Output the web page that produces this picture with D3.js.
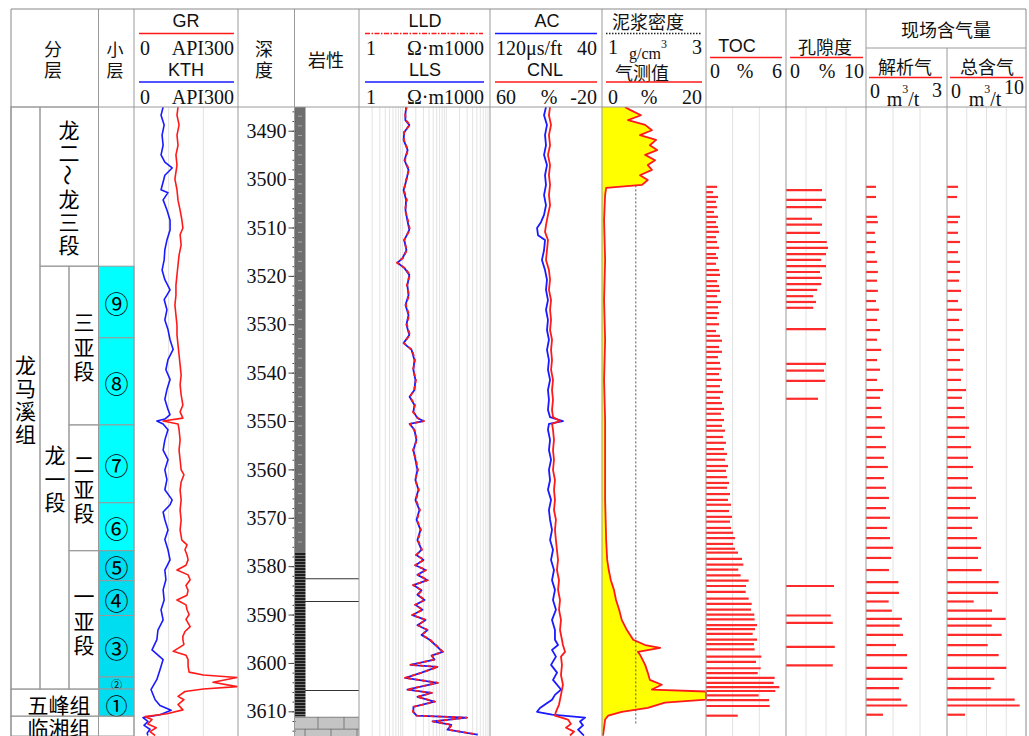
<!DOCTYPE html>
<html>
<head>
<meta charset="utf-8">
<script src="https://cdn.jsdelivr.net/npm/d3@7"></script>
<style>
  body { margin: 0; background: #fff; }
  svg { display: block; }
</style>
</head>
<body>
<svg id="chart" width="1029" height="736"></svg>
<script>
// ---- data: [depth (m), value] ----
const grData = [[3485.1,127],[3486.8,124],[3488.8,130],[3490.9,124],[3493.0,127],[3495.0,121],[3497.1,124],[3500.0,118],[3502.2,124],[3504.4,127],[3506.4,133],[3508.4,138],[3510.1,141],[3511.5,133],[3513.6,136],[3515.7,130],[3517.7,127],[3519.8,124],[3521.9,121],[3524.0,121],[3526.0,118],[3528.1,121],[3530.2,124],[3532.2,124],[3534.3,127],[3536.3,130],[3538.4,133],[3540.5,136],[3542.5,133],[3544.6,136],[3546.7,141],[3548.1,133],[3549.4,141],[3550.0,84],[3550.6,127],[3551.8,130],[3553.9,133],[3556.0,130],[3558.0,133],[3560.1,136],[3561.1,144],[3562.6,136],[3564.3,133],[3566.3,136],[3568.4,133],[3570.5,136],[3572.5,133],[3574.6,138],[3575.6,153],[3576.6,147],[3577.7,153],[3578.7,156],[3579.8,150],[3580.8,124],[3581.8,156],[3582.8,162],[3584.0,150],[3585.0,156],[3586.0,153],[3587.0,124],[3588.0,150],[3589.0,153],[3590.0,159],[3591.0,150],[3592.5,162],[3593.5,147],[3594.5,141],[3595.2,141],[3596.2,144],[3597.6,113],[3598.4,150],[3599.3,156],[3600.7,156],[3601.9,159],[3602.5,200],[3603.0,297],[3604.0,228],[3604.9,297],[3605.4,200],[3605.9,147],[3606.9,127],[3607.6,144],[3608.6,127],[3609.7,141],[3610.5,95],[3611.1,32],[3611.7,52],[3612.6,40],[3613.4,64],[3614.2,46],[3615.0,61]];

const kthData = [[3485.1,84],[3486.8,78],[3488.8,87],[3490.9,81],[3493.0,84],[3495.0,78],[3496.5,89],[3497.7,110],[3499.2,89],[3500.6,84],[3502.2,78],[3502.8,98],[3504.3,84],[3506.4,95],[3508.5,104],[3510.5,104],[3512.6,95],[3514.6,89],[3516.7,87],[3518.8,81],[3520.8,89],[3522.9,104],[3524.9,87],[3527.0,95],[3529.1,89],[3531.1,98],[3533.2,104],[3535.2,113],[3537.3,98],[3539.4,92],[3541.4,104],[3543.5,95],[3545.5,89],[3547.6,98],[3548.7,104],[3549.6,89],[3550.0,66],[3550.6,84],[3551.8,98],[3553.9,89],[3556.0,84],[3558.0,98],[3560.1,89],[3562.1,95],[3564.2,89],[3566.3,110],[3567.3,104],[3568.8,84],[3570.4,89],[3572.5,98],[3574.5,89],[3576.6,98],[3578.7,104],[3580.8,89],[3582.8,92],[3584.9,84],[3587.0,87],[3589.0,78],[3591.1,84],[3593.2,69],[3595.2,66],[3597.3,52],[3599.3,84],[3601.4,75],[3603.4,66],[3605.5,49],[3607.6,61],[3608.8,75],[3609.8,107],[3610.7,75],[3611.3,26],[3612.1,40],[3612.9,29],[3613.7,46],[3614.5,38],[3615.0,40]];

const lldData = [[3485.1,12.5],[3486.4,11.3],[3487.8,11.9],[3488.8,14.7],[3490.3,10.7],[3491.9,10.7],[3494.0,13.2],[3496.1,11.3],[3498.1,14.0],[3500.2,11.9],[3502.3,10.7],[3504.3,12.5],[3506.4,11.3],[3508.5,13.2],[3510.5,14.7],[3512.6,10.7],[3514.7,12.5],[3516.3,10.2],[3517.3,7.4],[3518.4,11.3],[3519.8,14.7],[3521.9,12.5],[3524.0,14.0],[3526.0,11.9],[3528.1,14.0],[3530.1,12.5],[3532.2,14.7],[3533.9,10.7],[3535.3,16.4],[3537.4,19.2],[3539.4,17.2],[3541.5,20.2],[3543.6,18.2],[3545.0,14.7],[3546.7,19.2],[3548.1,17.2],[3549.4,22.4],[3550.0,30.8],[3550.6,14.7],[3551.8,18.2],[3553.9,21.3],[3556.0,17.2],[3558.0,20.2],[3560.1,22.4],[3562.2,19.2],[3564.2,23.6],[3566.3,20.2],[3568.4,24.9],[3570.4,21.3],[3572.5,26.3],[3574.6,22.4],[3576.6,27.7],[3577.7,20.2],[3578.7,30.8],[3579.8,19.2],[3580.8,34.2],[3581.8,22.4],[3582.9,38.0],[3583.9,17.2],[3585.0,27.7],[3585.9,22.4],[3587.0,32.4],[3588.0,19.2],[3589.0,29.2],[3590.1,16.4],[3591.1,34.2],[3592.2,22.4],[3593.2,38.0],[3594.2,27.7],[3595.2,42.4],[3596.5,61.0],[3597.7,84.0],[3598.5,47.0],[3599.3,55.0],[3600.4,14.7],[3600.8,64.3],[3602.0,27.7],[3603.1,11.3],[3604.1,64.3],[3605.5,12.5],[3606.2,47.0],[3607.0,21.3],[3608.0,55.0],[3609.1,17.2],[3610.1,17.2],[3610.9,21.3],[3611.3,298],[3612.1,49.4],[3612.8,134],[3613.8,109],[3614.8,530]];

const llsData = [[3485.1,12.0],[3486.4,11.6],[3487.8,11.5],[3488.8,14.2],[3490.3,10.9],[3491.9,10.5],[3494.0,13.0],[3496.1,11.0],[3498.1,13.6],[3500.2,12.2],[3502.3,10.5],[3504.3,12.0],[3506.4,11.6],[3508.5,12.8],[3510.5,14.2],[3512.6,10.9],[3514.7,12.2],[3516.3,10.0],[3517.3,7.6],[3518.4,11.0],[3519.8,14.2],[3521.9,12.8],[3524.0,13.6],[3526.0,11.6],[3528.1,13.6],[3530.1,12.2],[3532.2,14.2],[3533.9,10.5],[3535.3,16.0],[3537.4,18.6],[3539.4,17.6],[3541.5,19.6],[3543.6,18.6],[3545.0,14.4],[3546.7,18.6],[3548.1,17.6],[3549.4,21.8],[3550.0,30.0],[3550.6,14.4],[3551.8,18.6],[3553.9,20.6],[3556.0,17.6],[3558.0,19.6],[3560.1,21.8],[3562.2,19.6],[3564.2,23.0],[3566.3,19.6],[3568.4,24.2],[3570.4,20.8],[3572.5,25.6],[3574.6,21.8],[3576.6,27.0],[3577.7,20.6],[3578.7,30.0],[3579.8,19.6],[3580.8,33.4],[3581.8,21.8],[3582.9,37.0],[3583.9,17.6],[3585.0,27.0],[3585.9,21.8],[3587.0,31.6],[3588.0,19.6],[3589.0,28.4],[3590.1,16.8],[3591.1,33.4],[3592.2,21.8],[3593.2,37.0],[3594.2,27.0],[3595.2,41.4],[3596.5,59.5],[3597.7,82.0],[3598.5,45.8],[3599.3,53.6],[3600.4,15.0],[3600.8,62.8],[3602.0,27.0],[3603.1,11.6],[3604.1,62.8],[3605.5,12.8],[3606.2,45.8],[3607.0,21.8],[3608.0,53.6],[3609.1,17.6],[3610.1,17.6],[3610.9,20.8],[3611.3,290],[3612.1,48.2],[3612.8,130],[3613.8,106],[3614.8,515]];

const acData = [[3485.1,80.0],[3486.8,81.4],[3488.8,79.3],[3490.9,80.7],[3493.0,80.0],[3495.0,81.4],[3497.1,79.3],[3499.2,80.7],[3501.2,80.0],[3503.3,81.4],[3505.4,80.0],[3507.4,81.4],[3508.9,83.6],[3510.1,86.4],[3511.6,85.7],[3512.6,80.7],[3514.7,81.4],[3516.7,82.9],[3518.8,80.7],[3520.8,79.3],[3522.9,80.0],[3525.0,78.6],[3527.0,80.0],[3529.1,78.6],[3531.2,79.3],[3533.2,77.9],[3535.3,79.3],[3537.4,77.9],[3539.4,78.6],[3541.5,77.1],[3543.6,78.6],[3545.6,77.9],[3547.7,78.6],[3549.2,77.1],[3550.0,67.9],[3550.6,77.9],[3551.8,78.6],[3553.9,77.1],[3556.0,77.9],[3558.0,76.4],[3560.1,77.9],[3562.2,77.1],[3564.2,78.6],[3566.3,76.4],[3568.4,77.9],[3570.4,77.1],[3572.5,75.7],[3574.6,77.1],[3576.6,75.0],[3578.7,76.4],[3580.8,74.3],[3582.9,75.7],[3584.9,73.6],[3587.0,75.0],[3589.0,72.9],[3591.1,75.7],[3593.2,73.6],[3595.2,73.6],[3596.3,71.4],[3597.3,75.7],[3598.7,72.9],[3600.4,76.4],[3602.0,72.1],[3603.5,75.0],[3605.5,69.3],[3606.6,73.6],[3607.6,75.7],[3608.6,80.7],[3609.3,84.3],[3610.1,86.4],[3610.7,75.7],[3611.3,52.1],[3612.1,55.7],[3612.9,53.6],[3613.8,57.1],[3615.0,52.9]];

const cnlData = [[3485.1,17.1],[3486.8,17.9],[3488.8,16.4],[3490.9,17.9],[3493.0,17.1],[3495.0,18.6],[3497.1,17.1],[3499.2,17.9],[3501.2,17.1],[3503.3,17.9],[3505.4,17.1],[3507.4,18.6],[3509.5,20.0],[3510.9,20.7],[3512.6,18.6],[3514.7,19.3],[3516.7,20.0],[3518.8,17.9],[3520.8,17.1],[3522.9,17.9],[3525.0,16.4],[3527.0,17.1],[3529.1,16.4],[3531.2,17.1],[3533.2,15.7],[3535.3,16.4],[3537.4,15.7],[3539.4,16.4],[3541.5,15.0],[3543.6,15.7],[3545.6,15.0],[3547.7,15.7],[3549.2,15.0],[3550.0,10.0],[3550.6,15.7],[3551.8,15.0],[3553.9,14.3],[3556.0,15.0],[3558.0,14.3],[3560.1,15.0],[3562.2,13.6],[3564.2,14.3],[3566.3,13.6],[3568.4,14.3],[3570.4,12.9],[3572.5,13.6],[3574.6,12.9],[3576.6,12.2],[3578.7,11.4],[3580.8,12.2],[3582.9,10.7],[3584.9,11.4],[3587.0,10.0],[3589.0,10.7],[3591.1,9.3],[3593.2,10.0],[3595.2,8.6],[3596.3,7.9],[3597.7,6.4],[3598.7,9.3],[3600.4,8.6],[3602.5,9.3],[3604.5,7.9],[3606.6,9.3],[3608.6,10.7],[3610.1,12.9],[3610.9,13.6],[3611.7,4.3],[3612.6,2.2],[3613.4,5.7],[3614.2,0.0],[3615.0,2.9]];

const gasData = [[3485.1,4.4],[3485.7,5.4],[3486.8,7.5],[3487.8,5.0],[3488.8,8.3],[3489.9,9.6],[3490.9,7.3],[3491.9,10.4],[3493.0,9.2],[3494.0,10.6],[3495.0,8.3],[3496.1,10.2],[3497.1,8.8],[3498.1,9.6],[3499.2,7.3],[3500.2,8.8],[3501.2,7.7],[3501.8,0.8],[3503.3,0.6],[3508.5,0.4],[3516.7,0.6],[3525.0,0.4],[3533.2,0.6],[3541.5,0.4],[3549.8,0.6],[3558.0,0.6],[3566.3,0.6],[3574.6,0.8],[3578.7,1.0],[3580.8,1.3],[3582.9,1.7],[3584.9,2.3],[3587.0,2.7],[3589.0,3.3],[3591.1,3.8],[3593.2,4.8],[3595.2,6.0],[3596.3,8.3],[3596.9,11.2],[3597.7,6.9],[3598.3,7.3],[3600.4,8.3],[3602.0,8.8],[3603.5,9.2],[3604.5,11.5],[3605.5,9.6],[3605.9,20.0],[3607.6,20.0],[3608.2,12.1],[3609.3,8.8],[3610.1,3.8],[3610.9,1.2],[3611.7,0.6],[3615.0,0.2]];

const mudData = [[3501.3,1.65],[3612.5,1.65]];

const tocData = [[3501.6,0.83],[3502.7,0.53],[3503.7,0.90],[3504.7,0.75],[3505.8,0.83],[3506.8,0.60],[3507.8,0.90],[3508.9,0.75],[3509.9,0.90],[3510.9,0.98],[3512.0,0.75],[3513.0,0.83],[3514.2,0.98],[3515.5,0.75],[3516.3,0.90],[3517.5,0.75],[3518.8,0.98],[3519.8,1.05],[3521.1,0.83],[3522.1,0.98],[3523.1,1.05],[3524.2,0.83],[3525.4,1.13],[3526.5,0.90],[3527.7,0.98],[3528.7,0.83],[3530.0,0.98],[3531.4,0.75],[3532.4,1.05],[3533.4,1.20],[3534.7,0.98],[3535.7,1.20],[3536.8,0.90],[3538.0,1.05],[3539.2,1.13],[3540.3,0.98],[3541.5,1.20],[3542.8,1.05],[3544.0,1.28],[3545.2,1.05],[3546.3,1.20],[3547.5,1.35],[3548.5,1.13],[3549.8,1.35],[3551.0,1.20],[3552.0,1.43],[3553.3,1.28],[3554.5,1.50],[3555.8,1.35],[3556.8,1.58],[3558.0,1.43],[3559.3,1.65],[3560.3,1.50],[3561.6,1.58],[3562.8,1.73],[3563.8,1.58],[3565.1,1.80],[3566.3,1.65],[3567.3,1.88],[3568.6,1.73],[3569.8,1.95],[3570.8,1.80],[3572.1,1.88],[3573.1,2.03],[3574.2,2.18],[3575.4,2.03],[3576.4,2.18],[3577.2,2.40],[3578.5,2.70],[3579.7,2.80],[3580.7,2.42],[3581.9,2.60],[3583.0,3.20],[3584.1,3.00],[3585.3,2.98],[3586.7,3.20],[3587.8,3.43],[3589.0,3.38],[3590.0,3.62],[3591.0,3.65],[3592.2,3.83],[3593.0,3.68],[3594.0,3.50],[3595.2,3.83],[3596.1,3.60],[3597.2,3.65],[3598.7,4.15],[3599.8,3.75],[3601.1,4.10],[3602.1,3.88],[3603.1,5.15],[3604.1,5.08],[3605.0,5.50],[3605.8,5.20],[3606.7,3.95],[3607.7,4.73],[3608.9,4.78],[3610.9,2.38]];

const porData = [[3502.3,4.5],[3504.3,5.0],[3505.8,4.5],[3508.2,3.25],[3509.4,4.5],[3511.1,4.25],[3513.0,5.1],[3514.2,5.25],[3515.5,5.0],[3516.7,4.4],[3518.0,5.0],[3519.2,4.25],[3520.4,4.5],[3521.7,4.4],[3522.9,3.9],[3524.2,3.4],[3525.4,3.75],[3526.6,3.4],[3531.0,5.0],[3538.2,5.0],[3539.6,4.75],[3541.7,4.9],[3545.4,4.0],[3584.1,6.0],[3590.2,5.6],[3591.7,5.85],[3596.7,6.1],[3600.5,5.85]];

const desorbData = [[3501.6,0.37],[3503.7,0.37],[3507.8,0.41],[3508.9,0.44],[3511.1,0.33],[3513.0,0.37],[3515.1,0.33],[3517.1,0.41],[3519.2,0.44],[3521.0,0.41],[3523.1,0.44],[3525.2,0.37],[3527.0,0.48],[3529.1,0.41],[3531.2,0.52],[3533.2,0.41],[3535.3,0.56],[3537.4,0.41],[3539.4,0.52],[3541.5,0.41],[3543.6,0.63],[3545.2,0.52],[3547.3,0.56],[3549.2,0.59],[3551.4,0.70],[3553.3,0.59],[3555.4,0.74],[3557.6,0.67],[3559.5,0.81],[3561.8,0.67],[3563.8,0.74],[3565.9,0.85],[3568.0,0.74],[3570.0,0.89],[3572.1,0.78],[3574.2,0.89],[3576.2,1.00],[3578.3,0.93],[3580.8,0.85],[3583.3,1.20],[3585.5,1.22],[3587.3,0.84],[3589.2,0.96],[3590.9,1.33],[3592.3,1.25],[3594.2,1.37],[3596.3,1.11],[3598.4,1.52],[3601.0,1.52],[3603.3,1.36],[3605.2,1.22],[3607.6,1.30],[3608.8,1.53],[3610.7,0.63]];

const totalGasData = [[3501.6,1.39],[3503.7,1.27],[3507.8,1.65],[3508.9,1.39],[3511.1,1.39],[3513.0,1.65],[3515.1,1.39],[3517.1,1.65],[3519.2,1.65],[3521.0,1.52],[3523.1,1.77],[3525.2,1.39],[3527.0,1.90],[3529.1,1.52],[3531.2,2.03],[3533.2,1.65],[3535.3,2.15],[3537.4,1.65],[3539.4,2.03],[3541.5,1.77],[3543.6,2.41],[3545.2,1.90],[3547.3,2.15],[3549.2,2.28],[3551.4,2.78],[3553.3,2.28],[3555.4,3.04],[3557.6,2.66],[3559.5,3.29],[3561.8,2.66],[3563.8,3.16],[3565.9,3.67],[3568.0,2.91],[3570.0,3.92],[3572.1,3.16],[3574.2,3.80],[3576.2,4.30],[3578.3,3.92],[3580.8,4.39],[3583.3,6.54],[3585.5,6.46],[3587.3,3.38],[3589.2,5.70],[3590.9,7.43],[3592.3,5.66],[3594.2,6.92],[3596.3,5.15],[3598.4,6.54],[3601.0,7.51],[3603.3,5.99],[3605.2,5.53],[3607.6,8.57],[3608.8,9.20],[3610.7,2.28]];

// stratigraphy
const formations = [
  { name: "龙马溪组", top: 3485.1, bottom: 3605.4 },
  { name: "五峰组", top: 3605.4, bottom: 3611.0 },
  { name: "临湘组", top: 3611.0, bottom: 3615.1 }
];
const members = [
  { name: "龙二～龙三段", top: 3485.1, bottom: 3518.0 },
  { name: "龙一段", top: 3518.0, bottom: 3605.4 }
];
const subMembers = [
  { name: "三亚段", top: 3518.0, bottom: 3550.8 },
  { name: "二亚段", top: 3550.8, bottom: 3576.8 },
  { name: "一亚段", top: 3576.8, bottom: 3605.4 }
];
const layers = [
  { name: "⑨", top: 3518.0, bottom: 3532.8 },
  { name: "⑧", top: 3532.8, bottom: 3550.8 },
  { name: "⑦", top: 3550.8, bottom: 3566.9 },
  { name: "⑥", top: 3566.9, bottom: 3576.8 },
  { name: "⑤", top: 3576.8, bottom: 3583.0 },
  { name: "④", top: 3583.0, bottom: 3590.2 },
  { name: "③", top: 3590.2, bottom: 3602.9 },
  { name: "②", top: 3602.9, bottom: 3605.4 },
  { name: "①", top: 3605.4, bottom: 3611.0 }
];
const lithology = [
  { type: "mud", top: 3485.1, bottom: 3577.0 },
  { type: "shale", top: 3577.0, bottom: 3611.1 },
  { type: "lime", top: 3611.1, bottom: 3615.1 }
];
const thinBeds = [3582.6, 3587.3, 3605.7];
const depthTicks = [3490, 3500, 3510, 3520, 3530, 3540, 3550, 3560, 3570, 3580, 3590, 3600, 3610];

// ---- layout ----
const width = 1029, height = 736;
const headTop = 9, bodyTop = 107, bodyBottom = 736;
const frameL = 11, frameR = 1026;
const lineCol = "#9a9a9a";
const cjk = "'Noto Sans CJK SC', sans-serif";
const serif = "'Liberation Serif', 'Times New Roman', serif";
const sans = "'Liberation Sans', Arial, sans-serif";
const red = "#ff1a1a", blue = "#1a1aff";

const svg = d3.select("#chart");
const y = d3.scaleLinear().domain([3485.1, 3615.1]).range([bodyTop, bodyBottom]);

const grX = d3.scaleLinear().domain([0, 300]).range([134, 238]);
const resX = d3.scaleLog().domain([1, 1000]).range([359, 490]);
const acX = d3.scaleLinear().domain([120, 40]).range([490, 602]);
const cnlX = d3.scaleLinear().domain([60, -20]).range([490, 602]);
const gasX = d3.scaleLinear().domain([0, 20]).range([602, 706]);
const mudX = d3.scaleLinear().domain([1, 3]).range([602, 706]);
const tocX = d3.scaleLinear().domain([0, 6]).range([706, 786]);
const porX = d3.scaleLinear().domain([0, 10]).range([786, 866]);
const desX = d3.scaleLinear().domain([0, 3]).range([866, 947]);
const totX = d3.scaleLinear().domain([0, 10]).range([947, 1026]);

const defs = svg.append("defs");
defs.append("clipPath").attr("id", "body")
  .append("rect").attr("x", 0).attr("y", bodyTop).attr("width", width).attr("height", bodyBottom - bodyTop);

// black shale stripes
const shale = defs.append("pattern").attr("id", "shale")
  .attr("patternUnits", "userSpaceOnUse").attr("width", 10).attr("height", 3);
shale.append("rect").attr("width", 10).attr("height", 3).attr("fill", "#1e1e1e");
shale.append("line").attr("x1", 0).attr("x2", 10).attr("y1", 0.5).attr("y2", 0.5)
  .attr("stroke", "#8c8c8c").attr("stroke-width", 0.8);

// limestone bricks
const lime = defs.append("pattern").attr("id", "lime")
  .attr("patternUnits", "userSpaceOnUse").attr("width", 26).attr("height", 24)
  .attr("x", 295).attr("y", y(3611.1));
lime.append("rect").attr("width", 26).attr("height", 24).attr("fill", "#c4c4c4");
lime.append("path").attr("d", "M0,0.5H26M0,12.5H26M23,0V12M10,12V24")
  .attr("stroke", "#666").attr("stroke-width", 0.8).attr("fill", "none");

// ---- grid lines ----
const grid = svg.append("g").attr("stroke-width", 1);
function vGrid(scale, values, color) {
  grid.selectAll(null).data(values).enter().append("line")
    .attr("x1", d => scale(d)).attr("x2", d => scale(d))
    .attr("y1", bodyTop).attr("y2", bodyBottom)
    .attr("stroke", color);
}
vGrid(grX, [100, 200], "#e2e2e2");
vGrid(resX, resX.ticks().filter(d => d > 1 && d < 1000), "#e4e4e4");
vGrid(tocX, [2, 4], "#e2e2e2");
vGrid(porX, [2.5, 5, 7.5], "#e2e2e2");
vGrid(desX, [1, 2], "#e2e2e2");
vGrid(totX, [2.5, 5, 7.5], "#e2e2e2");

// ---- stratigraphy columns ----
const strat = svg.append("g");
function cell(x0, x1, d0, d1, fill) {
  strat.append("rect").attr("x", x0).attr("y", y(d0)).attr("width", x1 - x0)
    .attr("height", y(d1) - y(d0)).attr("fill", fill || "none")
    .attr("stroke", lineCol).attr("stroke-width", 1);
}
function vText(x, d0, d1, text, size, step) {
  const chars = Array.from(text);
  const mid = (y(d0) + y(d1)) / 2;
  chars.forEach((c, i) => {
    const cy = mid + (i - (chars.length - 1) / 2) * step;
    const t = strat.append("text").attr("x", x).attr("y", cy)
      .attr("text-anchor", "middle").attr("dominant-baseline", "central")
      .style("font-family", cjk).style("font-size", size + "px").text(c);
    if (c === "～") t.attr("transform", `rotate(90,${x},${cy})`);
  });
}

// 龙马溪组 column
cell(frameL, 40, formations[0].top, formations[0].bottom);
vText(25.5, formations[0].top, formations[0].bottom, formations[0].name, 21, 23);
// 五峰组 / 临湘组 rows
formations.slice(1).forEach((f, i) => {
  cell(frameL, 98.5, f.top, f.bottom);
  strat.append("text").attr("x", 59).attr("y", i === 0 ? (y(f.top) + y(f.bottom)) / 2 + 1 : y(f.top) + 11)
    .attr("text-anchor", "middle").attr("dominant-baseline", "central")
    .style("font-family", cjk).style("font-size", "21px").text(f.name);
});
// members
cell(40, 98.5, members[0].top, members[0].bottom);
vText(69, members[0].top, members[0].bottom, members[0].name, 21, 23);
cell(40, 69, members[1].top, members[1].bottom);
vText(55, members[1].top, members[1].bottom, members[1].name, 21, 23.5);
subMembers.forEach(s => {
  cell(69, 98.5, s.top, s.bottom);
  vText(84, s.top, s.bottom, s.name, 21, 24.5);
});
// small layers
layers.forEach((l, i) => {
  cell(98.5, 134, l.top, l.bottom, i < 4 ? "#00ffff" : "#00dcf0");
  strat.append("text").attr("x", 116.5).attr("y", (y(l.top) + y(l.bottom)) / 2 + 1)
    .attr("text-anchor", "middle").attr("dominant-baseline", "central")
    .style("font-family", cjk).style("font-size", l.name === "②" ? "11px" : (l.name === "①" ? "22px" : "24px")).text(l.name);
});
cell(98.5, 134, 3611.0, 3615.1);

// ---- lithology ----
const lith = svg.append("g").attr("clip-path", "url(#body)");
lithology.forEach(l => {
  const x0 = 295, x1 = l.type === "lime" ? 359 : 305.5;
  lith.append("rect").attr("x", x0).attr("y", y(l.top)).attr("width", x1 - x0)
    .attr("height", y(l.bottom) - y(l.top))
    .attr("fill", l.type === "mud" ? "#6e6e6e" : `url(#${l.type})`);
});
// light dashes in the mudstone bar
lith.selectAll(null).data(d3.range(3487, 3577, 2)).enter().append("line")
  .attr("x1", 298).attr("x2", 302).attr("y1", d => y(d)).attr("y2", d => y(d))
  .attr("stroke", "#a8a8a8").attr("stroke-width", 1);
lith.selectAll(null).data(thinBeds).enter().append("line")
  .attr("x1", 305).attr("x2", 359).attr("y1", d => y(d)).attr("y2", d => y(d))
  .attr("stroke", "#333").attr("stroke-width", 1.2);

// ---- depth axis ----
const minorAxis = d3.axisLeft(y).tickValues(d3.range(3486, 3615, 2)).tickSize(3).tickFormat("");
const gMinor = svg.append("g").attr("transform", "translate(295.5,0)").call(minorAxis);
const depthAxis = d3.axisLeft(y).tickValues(depthTicks).tickSize(7).tickFormat(d3.format("d"));
const gDepth = svg.append("g").attr("transform", "translate(295.5,0)").call(depthAxis);
[gMinor, gDepth].forEach(g => {
  g.select(".domain").remove();
  g.selectAll(".tick line").attr("stroke", "#444");
});
gDepth.selectAll(".tick text").attr("x", -29).attr("dy", "0.33em")
  .attr("text-anchor", "middle").attr("fill", "#111")
  .style("font-family", serif).style("font-size", "20px");

// ---- curves ----
const curves = svg.append("g").attr("clip-path", "url(#body)").attr("fill", "none");
function curve(data, xs, color, w, dash) {
  const line = d3.line().x(d => xs(d[1])).y(d => y(d[0]));
  const p = curves.append("path").datum(data).attr("d", line)
    .attr("stroke", color).attr("stroke-width", w).attr("stroke-linejoin", "round");
  if (dash) p.attr("stroke-dasharray", dash);
  return p;
}
// gas fill
const gasArea = d3.area().x0(gasX(0)).x1(d => gasX(d[1])).y(d => y(d[0]));
curves.append("path").datum(gasData).attr("d", gasArea).attr("fill", "#ffff00");
curve(kthData, grX, blue, 1.6);
curve(grData, grX, red, 1.6);
curve(llsData, resX, blue, 1.8);
curve(lldData, resX, red, 1.8, "4,3");
curve(acData, acX, blue, 1.8);
curve(cnlData, cnlX, red, 1.8);
curve(gasData, gasX, red, 1.8);
curve(mudData, mudX, "#555", 1, "2,2");

// ---- bar tracks ----
const bars = svg.append("g").attr("stroke", "#ff2b2b").attr("stroke-width", 2.2);
function barTrack(data, xs) {
  bars.append("g").selectAll("line").data(data).enter().append("line")
    .attr("x1", xs(0)).attr("x2", d => xs(d[1]))
    .attr("y1", d => y(d[0])).attr("y2", d => y(d[0]));
}
barTrack(tocData, tocX);
barTrack(porData, porX);
barTrack(desorbData, desX);
barTrack(totalGasData, totX);

// ---- frame and column lines ----
const frame = svg.append("g").attr("stroke", lineCol).attr("stroke-width", 1);
const colLines = [98.5, 134, 238, 294.5, 359, 490, 602, 706, 786, 866];
frame.selectAll(null).data(colLines).enter().append("line")
  .attr("x1", d => d).attr("x2", d => d).attr("y1", headTop).attr("y2", bodyBottom);
frame.append("line").attr("x1", 947).attr("x2", 947).attr("y1", 48).attr("y2", bodyBottom);
frame.append("line").attr("x1", 866).attr("x2", frameR).attr("y1", 48).attr("y2", 48);
frame.append("line").attr("x1", frameL).attr("x2", frameR).attr("y1", bodyTop).attr("y2", bodyTop);
frame.append("line").attr("x1", frameL).attr("x2", frameR).attr("y1", headTop).attr("y2", headTop).attr("stroke", "#888");
frame.append("line").attr("x1", frameL).attr("x2", frameL).attr("y1", headTop).attr("y2", bodyBottom).attr("stroke", "#888");
frame.append("line").attr("x1", frameR).attr("x2", frameR).attr("y1", headTop).attr("y2", bodyBottom).attr("stroke", "#888");

// ---- header ----
const head = svg.append("g").attr("fill", "#111");
function label(x, yy, text, font, size, anchor) {
  return head.append("text").attr("x", x).attr("y", yy)
    .attr("text-anchor", anchor || "middle").attr("dominant-baseline", "central")
    .style("font-family", font).style("font-size", size + "px").text(text);
}
function rule(x0, x1, yy, color, dash) {
  const l = head.append("line").attr("x1", x0).attr("x2", x1).attr("y1", yy).attr("y2", yy)
    .attr("stroke", color).attr("stroke-width", 1.6);
  if (dash) l.attr("stroke-dasharray", dash);
}
function scaleRow(x0, x1, yy, left, right, mid, midX) {
  label(x0, yy, left, serif, 20, "start");
  label(x1, yy, right, serif, 20, "end");
  if (mid) label(midX, yy, mid, serif, 20, "middle");
}

label(53, 48, "分", cjk, 18); label(53, 69, "层", cjk, 18);
label(115, 48, "小", cjk, 17); label(115, 69, "层", cjk, 17);
label(264, 48, "深", cjk, 18); label(264, 69, "度", cjk, 18);
label(326, 59, "岩性", cjk, 18);

// GR / KTH
label(186, 21, "GR", sans, 18);
rule(139, 234, 33.5, red);
scaleRow(140, 234, 48, "0", "API300");
label(186, 70, "KTH", sans, 18);
rule(139, 234, 82, blue);
scaleRow(140, 234, 97, "0", "API300");

// LLD / LLS
label(425, 21, "LLD", sans, 18);
rule(365, 483, 33.5, red, "5,1.5,1.5,1.5");
scaleRow(366, 484, 48, "1", "Ω·m1000");
label(425, 70, "LLS", sans, 18);
rule(365, 484, 82, blue);
scaleRow(366, 484, 97, "1", "Ω·m1000");

// AC / CNL
label(547, 21, "AC", sans, 18);
rule(495, 597, 33.5, blue);
scaleRow(496, 597, 48, "120μs/ft", "40");
label(545, 70, "CNL", sans, 18);
rule(495, 597, 82, red);
scaleRow(496, 597, 97, "60", "-20", "%", 549);

// mud density / gas
label(648, 21, "泥浆密度", cjk, 18);
rule(606, 702, 33.5, "#222", "1.5,1.5");
label(608, 47, "1", serif, 20, "start");
label(702, 47, "3", serif, 20, "end");
const gcm = label(648, 53, "g/cm", serif, 16);
gcm.append("tspan").attr("dy", -9).style("font-size", "12px").text("3");
label(642, 72, "气测值", cjk, 18);
rule(606, 702, 82, red);
scaleRow(608, 702, 97, "0", "20", "%", 649);

// TOC / porosity
label(737, 46, "TOC", sans, 18);
rule(710, 782, 57.5, red);
scaleRow(710, 782, 71, "0", "6", "%", 745);
label(825, 46, "孔隙度", cjk, 18);
rule(790, 863, 57.5, red);
scaleRow(790, 864, 71, "0", "10", "%", 827);

// gas content
label(946, 29, "现场含气量", cjk, 18);
label(905, 66, "解析气", cjk, 18);
rule(869, 942, 77.5, red);
label(870, 91, "0", serif, 20, "start");
label(942, 90, "3", serif, 20, "end");
const u1 = label(903, 99, "m", serif, 20);
u1.append("tspan").attr("dy", -10).style("font-size", "12px").text("3");
u1.append("tspan").attr("dy", 10).text("/t");
label(987, 66, "总含气", cjk, 18);
rule(950, 1023, 77.5, red);
label(951, 91, "0", serif, 20, "start");
label(1024, 87, "10", serif, 20, "end");
const u2 = label(985, 99, "m", serif, 20);
u2.append("tspan").attr("dy", -10).style("font-size", "12px").text("3");
u2.append("tspan").attr("dy", 10).text("/t");
</script>
</body>
</html>
